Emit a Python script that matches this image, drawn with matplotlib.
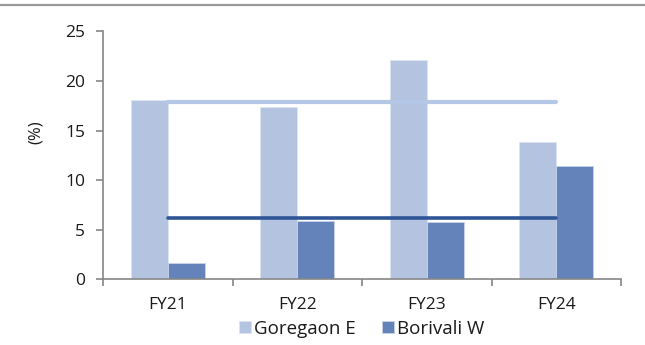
import matplotlib
matplotlib.use("Agg")
import matplotlib.pyplot as plt
import numpy as np

plt.rcParams['font.family'] = ['Open Sans', 'DejaVu Sans']

# yearly growth (%) for the two micro-markets
years     = ['FY21', 'FY22', 'FY23', 'FY24']
goregaon  = [18.1, 17.35, 22.1, 13.9]
borivali  = [1.6, 5.85, 5.8, 11.4]
names     = ['Goregaon E', 'Borivali W']

c_light, c_dark = '#B3C3E0', '#6483BA'
c_light_avg, c_dark_avg = '#B4C7E7', '#2F5597'
axis_grey = '#868686'
txt = '#1a1a1a'

fig = plt.figure(figsize=(6.45, 3.45), dpi=100)
ax = fig.add_axes([0.1597, 0.1904, 0.8031, 0.7183])

x = np.arange(len(years))
w = 0.285
ax.bar(x - w/2, goregaon, w, color=c_light, edgecolor='#DDE5F2', linewidth=0.6, label=names[0], zorder=2)
ax.bar(x + w/2, borivali, w, color=c_dark, edgecolor='#C9D4EA', linewidth=0.6, label=names[1], zorder=2)

# period averages drawn across the four years
ax.plot([x[0], x[-1]], [np.mean(goregaon)]*2, color=c_light_avg, lw=3.0,
        solid_capstyle='round', zorder=3)
ax.plot([x[0], x[-1]], [np.mean(borivali)]*2, color=c_dark_avg, lw=2.6,
        solid_capstyle='round', zorder=3)

ax.set_xlim(-0.5, len(years) - 0.5)
ax.set_ylim(0, 25)
ax.set_yticks(range(0, 26, 5))
ax.set_xticks(x)
ax.set_xticklabels(years)
ax.set_xticks(np.arange(-0.5, len(years), 1), minor=True)
ax.tick_params(axis='x', which='major', length=0, pad=13, labelsize=12.5, labelcolor=txt)
ax.tick_params(axis='x', which='minor', length=5, width=1.2, color=axis_grey, direction='out')
ax.tick_params(axis='y', length=5, width=1.2, color=axis_grey, direction='out', pad=8,
               labelsize=12.5, labelcolor=txt)

for s in ['top', 'right']:
    ax.spines[s].set_visible(False)
for s in ['left', 'bottom']:
    ax.spines[s].set_color(axis_grey)
    ax.spines[s].set_linewidth(1.2)

fig.text(36/645, 1 - 132/345, '(%)', rotation=90, ha='center', va='center',
         fontsize=12, color=txt)

leg = ax.legend(loc='center', bbox_to_anchor=(0.5, -0.2), ncol=2, frameon=False,
                fontsize=13.5, handlelength=0.6, handleheight=0.6, handletextpad=0.2,
                columnspacing=1.4, borderaxespad=0)
for t in leg.get_texts():
    t.set_color(txt)

# rule across the top of the figure
fig.add_artist(plt.Line2D([0, 1], [0.985, 0.985], color='#9a9a9a', lw=1.6,
                          transform=fig.transFigure))

fig.savefig('out.png', dpi=100)
